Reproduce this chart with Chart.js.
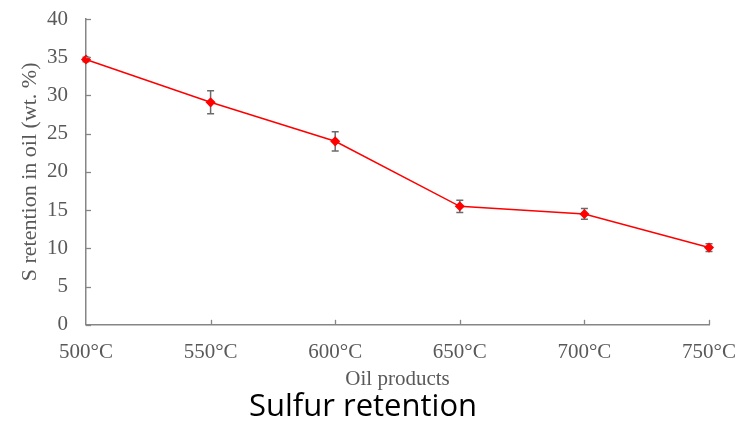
<!DOCTYPE html>
<html>
<head>
<meta charset="utf-8">
<script src="https://cdn.jsdelivr.net/npm/chart.js@4.4.0/dist/chart.umd.min.js"></script>
<style>
    html, body { margin: 0; padding: 0; background: #ffffff; }
    #wrap { position: relative; width: 743px; height: 427px; }
</style>
</head>
<body>
<div id="wrap"><canvas id="sulfurChart" width="743" height="427"></canvas></div>
<script>
// Chart data
const temperatures = ['500°C', '550°C', '600°C', '650°C', '700°C', '750°C'];
const sRetention = [34.7, 29.1, 24.0, 15.5, 14.5, 10.1];
const sError = [0.3, 1.5, 1.25, 0.8, 0.7, 0.5];
const yTicks = [0, 5, 10, 15, 20, 25, 30, 35, 40];

const axisColor = '#868686';
const textColor = '#595959';

// inward tick marks
const ticksPlugin = {
    id: 'innerTicks',
    afterDatasetsDraw(chart) {
        const ctx = chart.ctx;
        const x = chart.scales.x;
        const y = chart.scales.y;
        ctx.save();
        ctx.strokeStyle = axisColor;
        ctx.lineWidth = 1.3;
        // y ticks point right
        yTicks.forEach(v => {
            const py = Math.round(y.getPixelForValue(v)) + 0.5;
            ctx.beginPath();
            ctx.moveTo(x.left, py);
            ctx.lineTo(x.left + 5, py);
            ctx.stroke();
        });
        // x ticks point up
        temperatures.forEach((t, i) => {
            if (i === 0) return;
            const px = Math.round(x.getPixelForValue(i)) + 0.5;
            ctx.beginPath();
            ctx.moveTo(px, y.bottom);
            ctx.lineTo(px, y.bottom - 5);
            ctx.stroke();
        });
        ctx.restore();
    }
};

// error bars, drawn under the markers
const errorBarPlugin = {
    id: 'errorBars',
    beforeDatasetsDraw(chart) {
        const ctx = chart.ctx;
        const x = chart.scales.x;
        const y = chart.scales.y;
        ctx.save();
        ctx.strokeStyle = '#6a6a6a';
        ctx.lineWidth = 1.5;
        sRetention.forEach((v, i) => {
            const px = x.getPixelForValue(i);
            const top = y.getPixelForValue(v + sError[i]);
            const bot = y.getPixelForValue(v - sError[i]);
            ctx.beginPath();
            ctx.moveTo(px, top);
            ctx.lineTo(px, bot);
            ctx.moveTo(px - 3.5, top);
            ctx.lineTo(px + 3.5, top);
            ctx.moveTo(px - 3.5, bot);
            ctx.lineTo(px + 3.5, bot);
            ctx.stroke();
        });
        ctx.restore();
    }
};

new Chart(document.getElementById('sulfurChart'), {
    type: 'line',
    data: {
        labels: temperatures,
        datasets: [{
            data: sRetention,
            borderColor: '#ff0000',
            backgroundColor: '#ff0000',
            borderWidth: 1.5,
            pointStyle: 'rectRot',
            pointRadius: 4,
            tension: 0
        }]
    },
    options: {
        responsive: false,
        animation: false,
        layout: { padding: { left: 17, right: 34, top: 19, bottom: 1 } },
        plugins: {
            legend: { display: false },
            tooltip: { enabled: false },
            title: {
                display: true,
                position: 'bottom',
                text: 'Sulfur retention',
                color: '#000000',
                font: { family: 'Open Sans', size: 31, weight: 'normal' },
                padding: { top: 0, bottom: 0 }
            }
        },
        scales: {
            x: {
                offset: false,
                afterFit(scale) {
                    scale.height = 64;
                    scale.paddingLeft = 0;
                    scale.paddingRight = 0;
                },
                grid: { display: false, drawTicks: false },
                border: { color: axisColor, width: 1.5 },
                ticks: {
                    color: textColor,
                    padding: 15,
                    maxRotation: 0,
                    font: { family: 'Liberation Serif', size: 21 }
                },
                title: {
                    display: true,
                    text: 'Oil products',
                    color: textColor,
                    font: { family: 'Liberation Serif', size: 21 },
                    padding: { top: 0, bottom: -3 }
                }
            },
            y: {
                min: 0,
                max: 40,
                afterBuildTicks(scale) { scale.ticks = yTicks.map(v => ({ value: v })); },
                afterFit(scale) {
                    scale.width = 69;
                    scale.paddingTop = 0;
                    scale.paddingBottom = 0;
                },
                grid: { display: false, drawTicks: false },
                border: { color: axisColor, width: 1.5 },
                ticks: {
                    color: textColor,
                    padding: 18,
                    font: { family: 'Liberation Serif', size: 21 }
                },
                title: {
                    display: true,
                    text: 'S retention in oil (wt. %)',
                    color: textColor,
                    font: { family: 'Liberation Serif', size: 22 },
                    padding: { top: 0, bottom: 4 }
                }
            }
        }
    },
    plugins: [errorBarPlugin, ticksPlugin]
});
</script>
</body>
</html>
